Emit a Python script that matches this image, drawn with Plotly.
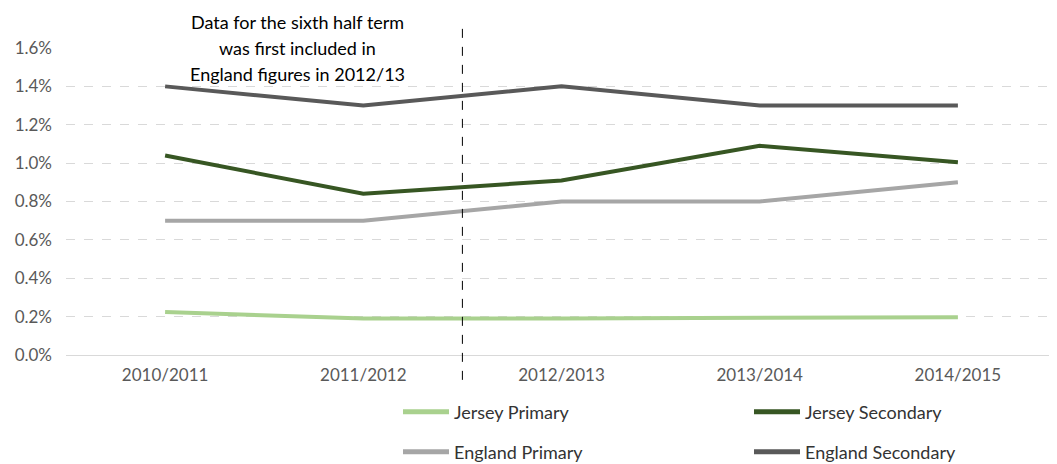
import plotly.graph_objects as go

years = ["2010/2011", "2011/2012", "2012/2013", "2013/2014", "2014/2015"]
jersey_primary = [0.00224, 0.0019, 0.0019, 0.00196, 0.00197]
jersey_secondary = [0.0104, 0.0084, 0.0091, 0.0109, 0.01005]
england_primary = [0.007, 0.007, 0.008, 0.008, 0.009]
england_secondary = [0.014, 0.013, 0.014, 0.013, 0.013]
y_ticks = [0, 0.002, 0.004, 0.006, 0.008, 0.010, 0.012, 0.014, 0.016]
note_lines = ["Data for the sixth half term", "was first included in", "England figures in 2012/13"]

FONT = "Lato"
series = [
    ("Jersey Primary", jersey_primary, "#A9D18E", "legend"),
    ("Jersey Secondary", jersey_secondary, "#375623", "legend"),
    ("England Primary", england_primary, "#A6A6A6", "legend2"),
    ("England Secondary", england_secondary, "#595959", "legend2"),
]

fig = go.Figure()
for name, vals, col, leg in series:
    fig.add_trace(go.Scatter(x=years, y=vals, name=name, mode="lines",
                             line=dict(color=col, width=4), legend=leg))

fig.add_shape(type="line", xref="x", yref="paper", x0=1.5, x1=1.5,
              y0=-0.081, y1=1.075, line=dict(color="black", width=1, dash="dash"))

for i, t in enumerate(note_lines):
    fig.add_annotation(text=t, xref="x", yref="paper", x=0.67,
                       y=(355 - (22 + 26 * i)) / 307, showarrow=False,
                       font=dict(family=FONT, size=18, color="#000000"),
                       xanchor="center", yanchor="middle")

legend_common = dict(orientation="h", xanchor="left", yanchor="middle",
                     font=dict(family=FONT, size=18, color="#333333"),
                     entrywidth=290, entrywidthmode="pixels", itemwidth=46,
                     bgcolor="rgba(0,0,0,0)", itemsizing="constant")

fig.update_layout(
    width=1049, height=456,
    margin=dict(l=58, r=0, t=40, b=109, autoexpand=False),
    plot_bgcolor="white", paper_bgcolor="white",
    font=dict(family=FONT, size=16, color="#595959"),
    xaxis=dict(type="category", range=[-0.5, 4.5], showgrid=False,
               showline=False, ticks="", ticklabelstandoff=8,
               tickfont=dict(size=17, color="#595959")),
    yaxis=dict(range=[0, 0.016], tickvals=y_ticks, tickformat=".1%",
               showgrid=True, gridcolor="#D9D9D9", griddash="dash", gridwidth=1,
               zeroline=True, zerolinecolor="#D9D9D9", zerolinewidth=1,
               showline=False, ticks="", ticklabelstandoff=13,
               tickfont=dict(size=17, color="#595959")),
    legend=dict(x=(398 - 66) / 991, y=(355 - 412) / 307, **legend_common),
    legend2=dict(x=(398 - 66) / 991, y=(355 - 452) / 307, **legend_common),
)

fig.write_html("out.html")
